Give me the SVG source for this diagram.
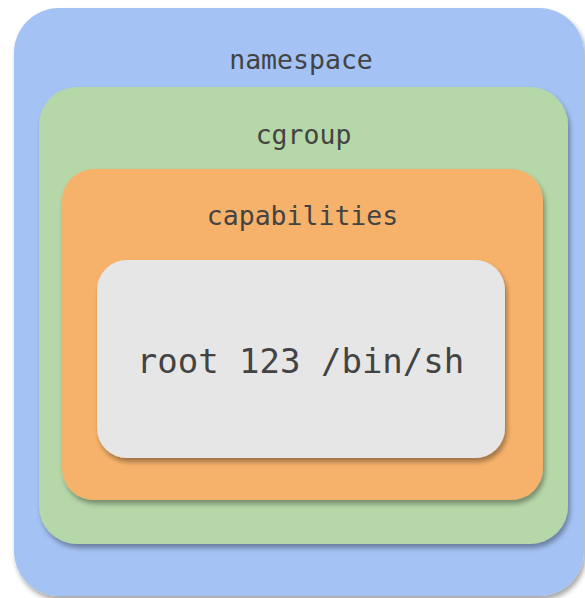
<svg xmlns="http://www.w3.org/2000/svg" width="585" height="598" viewBox="0 0 585 598">
<defs>
<filter id="sh" x="-10%" y="-10%" width="125%" height="125%">
<feDropShadow dx="2" dy="4" stdDeviation="2.5" flood-color="#000" flood-opacity="0.35"/>
</filter>
<style>
.box{filter:url(#sh);}
.lbl{font-family:"DejaVu Sans Mono","Liberation Mono",monospace;fill:#434343;text-anchor:middle;}
</style>
</defs>
<rect width="585" height="598" fill="#ffffff"/>
<g id="namespace">
<rect class="box" x="14" y="8" width="570" height="588" rx="45" fill="#a4c2f4"/>
<text class="lbl" x="301" y="69" font-size="26.5">namespace</text>
</g>
<g id="cgroup">
<rect class="box" x="39" y="87" width="529" height="457" rx="38" fill="#b6d7a8"/>
<text class="lbl" x="303.5" y="144" font-size="26.5">cgroup</text>
</g>
<g id="capabilities">
<rect class="box" x="62" y="169" width="481" height="331" rx="32" fill="#f6b26b"/>
<text class="lbl" x="302.5" y="225" font-size="26.5">capabilities</text>
</g>
<g id="process">
<rect class="box" x="97" y="260" width="408" height="198" rx="30" fill="#e6e6e6"/>
<text class="lbl" x="300.5" y="373" font-size="34">root 123 /bin/sh</text>
</g>
<g id="connectors"></g>
</svg>
